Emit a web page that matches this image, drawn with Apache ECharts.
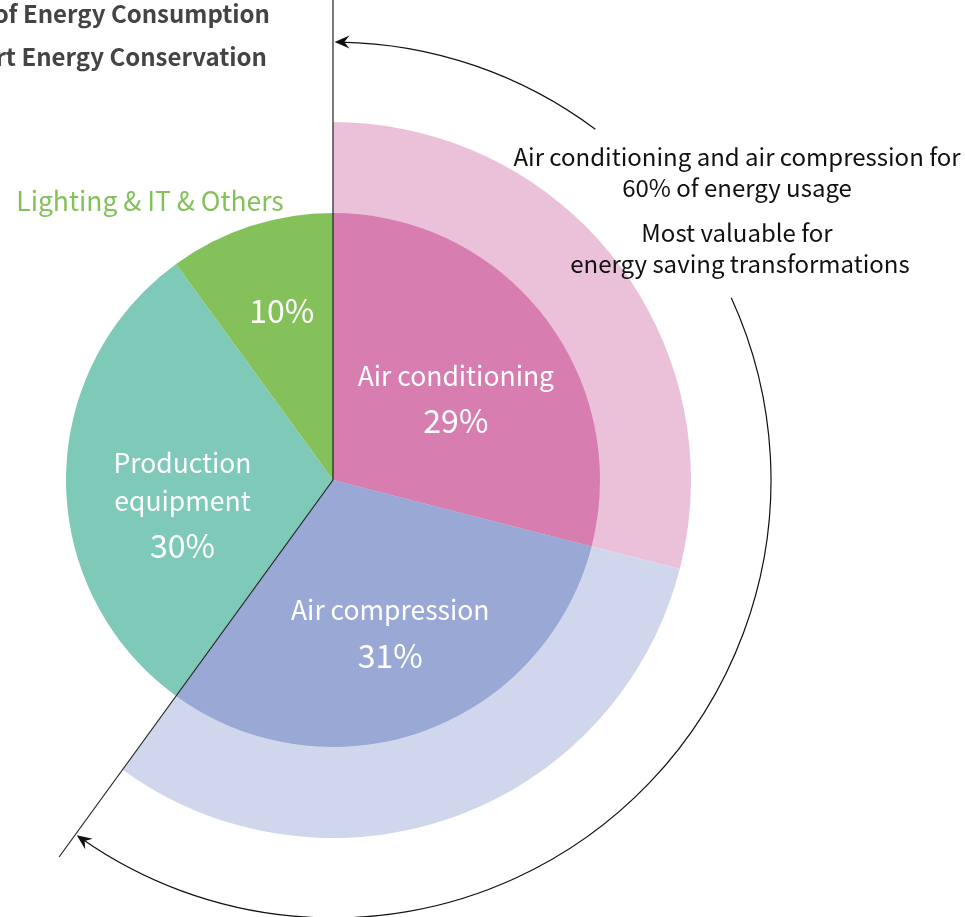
<!DOCTYPE html>
<html>
<head>
<meta charset="utf-8">
<script src="https://cdn.jsdelivr.net/npm/echarts@6/dist/echarts.min.js"></script>
<style>
  html, body { margin: 0; padding: 0; background: #fff; }
  #main { width: 965px; height: 917px; }
</style>
</head>
<body>
<div id="main"></div>
<script>
// data
var categories = ['Air conditioning', 'Air compression', 'Production equipment', 'Lighting & IT & Others']
var labelNames = ['Air conditioning', 'Air compression', 'Production\nequipment', '']
var values = [29, 31, 30, 10]
var colors = ['#D77DB0', '#99A8D4', '#7FC9B8', '#84C15A']
var lightColors = ['#EBC1DA', '#D0D6EB']
var titleLines = ['Breakdown of Energy Consumption', 'Key Areas for Smart Energy Conservation']
var noteLines = ['Air conditioning and air compression for', '60% of energy usage', 'Most valuable for', 'energy saving transformations']

var FONT = '"Noto Sans CJK SC", "Noto Sans", sans-serif'
var CX = 333, CY = 480, R_IN = 267, R_OUT = 358, R_ARC = 438

var total = values.reduce(function (a, b) { return a + b }, 0)
// boundary angle (deg, clockwise from 12 o'clock) after n slices
function boundary(n) {
    var s = 0
    for (var i = 0; i < n; i++) s += values[i]
    return s / total * 360
}
function pt(theta, r) {
    var a = theta * Math.PI / 180
    return [CX + r * Math.sin(a), CY - r * Math.cos(a)]
}
function rad(theta) { return (theta - 90) * Math.PI / 180 }

function arrowHead(theta, dir) {
    // dir: 1 clockwise, -1 counter clockwise
    var a = theta * Math.PI / 180
    var tip = pt(theta, R_ARC)
    var dx = Math.cos(a) * dir, dy = Math.sin(a) * dir
    var nx = -dy, ny = dx
    var L = 15, W = 6.5
    return {
        type: 'polygon',
        z: 20,
        shape: {
            points: [
                tip,
                [tip[0] - dx * L + nx * W, tip[1] - dy * L + ny * W],
                [tip[0] - dx * L * 0.65, tip[1] - dy * L * 0.65],
                [tip[0] - dx * L - nx * W, tip[1] - dy * L - ny * W]
            ]
        },
        style: { fill: '#111' }
    }
}

// label nudges inside slices
var labelPad = [
    [12, 0, 0, 30],
    [56, 0, 0, 22],
    [56, 28, 0, 0],
    [0, 18, 78, 0]
]

var chart = echarts.init(document.getElementById('main'))

var outerData = values.map(function (v, i) {
    return {
        value: v,
        name: categories[i],
        itemStyle: { color: i < 2 ? lightColors[i] : 'rgba(0,0,0,0)' }
    }
})

var innerData = values.map(function (v, i) {
    return {
        value: v,
        name: categories[i],
        itemStyle: { color: colors[i] },
        label: { padding: labelPad[i] }
    }
})

var b1 = boundary(2)
var pTop = pt(0, CY)
var pDiag = pt(b1, 466)

function note(i, x, y) {
    return {
        type: 'text', z: 20, x: x, y: y,
        style: { text: noteLines[i], fill: '#111', font: '24px ' + FONT, textAlign: 'center', textVerticalAlign: 'middle' }
    }
}

var option = {
    backgroundColor: '#fff',
    animation: false,
    series: [
        {
            type: 'pie',
            center: [CX, CY],
            radius: [0, R_OUT],
            startAngle: 90,
            clockwise: true,
            silent: true,
            label: { show: false },
            labelLine: { show: false },
            itemStyle: { borderWidth: 0 },
            data: outerData,
            z: 1
        },
        {
            type: 'pie',
            center: [CX, CY],
            radius: [0, R_IN],
            startAngle: 90,
            clockwise: true,
            silent: true,
            itemStyle: { borderWidth: 0 },
            label: {
                show: true,
                position: 'inside',
                color: '#fff',
                fontFamily: FONT,
                formatter: function (p) {
                    var parts = labelNames[p.dataIndex] ? labelNames[p.dataIndex].split('\n') : []
                    var s = parts.map(function (t) { return '{n|' + t + '}' })
                    s.push('{p|' + p.value + '%}')
                    return s.join('\n')
                },
                rich: {
                    n: { fontSize: 26.5, lineHeight: 38, color: '#fff', fontFamily: FONT },
                    p: { fontSize: 32, lineHeight: 52, color: '#fff', fontFamily: FONT }
                }
            },
            labelLine: { show: false },
            data: innerData,
            z: 2
        }
    ],
    graphic: [
        {
            type: 'line', z: 20,
            shape: { x1: CX, y1: CY, x2: pTop[0], y2: pTop[1] },
            style: { stroke: '#222', lineWidth: 1.2 }
        },
        {
            type: 'line', z: 20,
            shape: { x1: CX, y1: CY, x2: pDiag[0], y2: pDiag[1] },
            style: { stroke: '#222', lineWidth: 1.2 }
        },
        {
            type: 'arc', z: 20,
            shape: { cx: CX, cy: CY, r: R_ARC, startAngle: rad(1), endAngle: rad(36.8), clockwise: true },
            style: { stroke: '#111', fill: null, lineWidth: 1.2 }
        },
        arrowHead(0.2, -1),
        {
            type: 'arc', z: 20,
            shape: { cx: CX, cy: CY, r: R_ARC, startAngle: rad(65.4), endAngle: rad(b1 - 1), clockwise: true },
            style: { stroke: '#111', fill: null, lineWidth: 1.2 }
        },
        arrowHead(b1 - 0.2, 1),
        {
            type: 'text', z: 20,
            x: 270, y: 14,
            style: { text: titleLines[0], fill: '#444', font: 'bold 24px ' + FONT, textAlign: 'right', textVerticalAlign: 'middle' }
        },
        {
            type: 'text', z: 20,
            x: 267, y: 57,
            style: { text: titleLines[1], fill: '#444', font: 'bold 24px ' + FONT, textAlign: 'right', textVerticalAlign: 'middle' }
        },
        {
            type: 'text', z: 20,
            x: 150, y: 201,
            style: { text: categories[3], fill: '#84C15A', font: '26.5px ' + FONT, textAlign: 'center', textVerticalAlign: 'middle' }
        },
        note(0, 737, 157),
        note(1, 737, 188),
        note(2, 737, 233),
        note(3, 740, 264)
    ]
}

chart.setOption(option)
</script>
</body>
</html>
